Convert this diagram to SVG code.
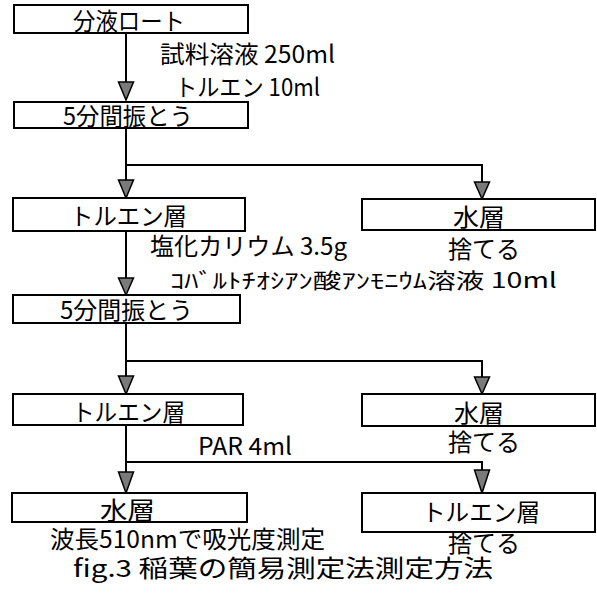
<svg xmlns="http://www.w3.org/2000/svg" width="597" height="593" viewBox="0 0 597 593">
<defs>
<style>
.box{fill:#fff;stroke:#000;stroke-width:2}
.ln{fill:none;stroke:#000;stroke-width:2}
.ah{fill:#7a7a7a;stroke:#000;stroke-width:1.5;stroke-linejoin:miter}
text{font-family:"Noto Sans CJK JP","Noto Sans",sans-serif;fill:#000;font-weight:normal}
.t{font-size:24px}
.s{font-size:21px}
</style>
</defs>
<rect width="597" height="593" fill="#fff"/>
<g id="connectors">
<path class="ln" d="M126 33V84"/>
<polygon class="ah" points="118.5,82 133.5,82 126,100"/>
<path class="ln" d="M126 128V182M126 165H482V183"/>
<polygon class="ah" points="118.5,180 133.5,180 126,198"/>
<polygon class="ah" points="474.5,182 489.5,182 482,199"/>
<path class="ln" d="M126 231V280"/>
<polygon class="ah" points="118.5,278 133.5,278 126,295"/>
<path class="ln" d="M126 323V377M126 361H482V378"/>
<polygon class="ah" points="118.5,376 133.5,376 126,394"/>
<polygon class="ah" points="474.5,377 489.5,377 482,394"/>
<path class="ln" d="M126 425V473M126 462H482V471"/>
<polygon class="ah" points="118.5,472 133.5,472 126,493"/>
<polygon class="ah" points="474.5,470 489.5,470 482,493"/>
</g>
<g id="n1"><rect class="box" x="14" y="5" width="234" height="28"/><text class="t" x="73" y="30" textLength="112" lengthAdjust="spacingAndGlyphs">分液ロート</text></g>
<g id="n2"><rect class="box" x="14" y="102" width="234" height="26"/><text class="t" x="63" y="125" textLength="130" lengthAdjust="spacingAndGlyphs">5分間振とう</text></g>
<g id="n3"><rect class="box" x="13" y="198" width="232" height="33"/><text class="t" x="70" y="225" textLength="117" lengthAdjust="spacingAndGlyphs">トルエン層</text></g>
<g id="n4"><rect class="box" x="362" y="199" width="233" height="31"/><text class="t" x="453" y="226" textLength="52" lengthAdjust="spacingAndGlyphs">水層</text><text class="t" x="448" y="258" textLength="72" lengthAdjust="spacingAndGlyphs">捨てる</text></g>
<g id="n5"><rect class="box" x="13" y="295" width="227" height="28"/><text class="t" x="60" y="319" textLength="133" lengthAdjust="spacingAndGlyphs">5分間振とう</text></g>
<g id="n6"><rect class="box" x="13" y="394" width="230" height="31"/><text class="t" x="72" y="421" textLength="113" lengthAdjust="spacingAndGlyphs">トルエン層</text></g>
<g id="n7"><rect class="box" x="362" y="394" width="233" height="32"/><text class="t" x="454" y="422" textLength="50" lengthAdjust="spacingAndGlyphs">水層</text><text class="t" x="448" y="451" textLength="72" lengthAdjust="spacingAndGlyphs">捨てる</text></g>
<g id="n8"><rect class="box" x="12" y="493" width="235" height="29"/><text class="t" x="100" y="519" textLength="55" lengthAdjust="spacingAndGlyphs">水層</text><text class="t" x="50" y="548" textLength="275" lengthAdjust="spacingAndGlyphs">波長510nmで吸光度測定</text></g>
<g id="n9"><rect class="box" x="362" y="493" width="233" height="39"/><text class="t" x="422" y="521" textLength="118" lengthAdjust="spacingAndGlyphs">トルエン層</text><text class="t" x="448" y="552" textLength="72" lengthAdjust="spacingAndGlyphs">捨てる</text></g>
<g id="labels">
<text class="t" x="160" y="63" textLength="175" lengthAdjust="spacingAndGlyphs">試料溶液 250ml</text>
<text class="t" x="175" y="96" textLength="145" lengthAdjust="spacingAndGlyphs">トルエン 10ml</text>
<text class="t" x="150" y="255" textLength="197" lengthAdjust="spacingAndGlyphs">塩化カリウム 3.5g</text>
<text class="s" x="170" y="288" textLength="387" lengthAdjust="spacingAndGlyphs">ｺﾊﾞﾙﾄﾁｵｼｱﾝ酸ｱﾝﾓﾆｳﾑ溶液  10ml</text>
<text class="t" x="198" y="455" textLength="94" lengthAdjust="spacingAndGlyphs">PAR 4ml</text>
<text class="t" x="73" y="577" textLength="420" lengthAdjust="spacingAndGlyphs">fig.3 稲葉の簡易測定法測定方法</text>
</g>
</svg>
